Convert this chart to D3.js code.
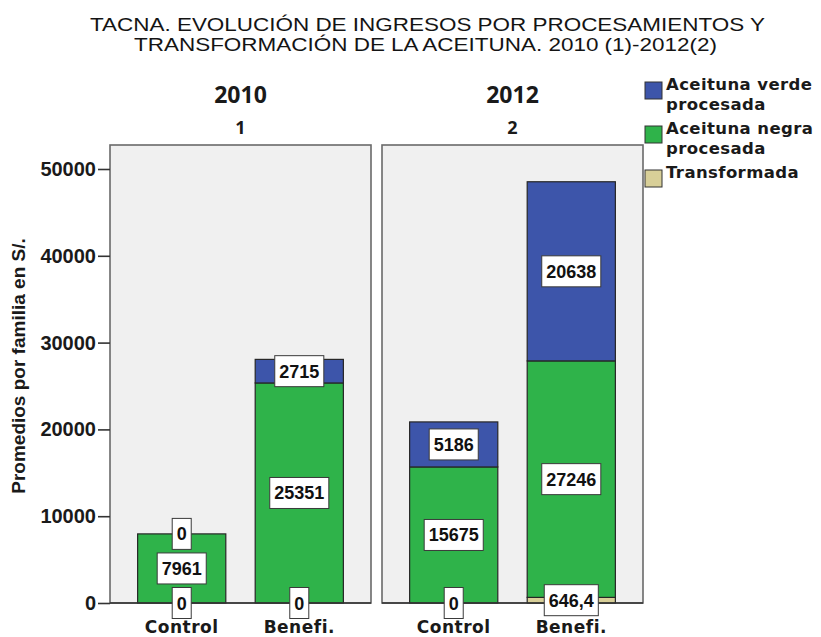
<!DOCTYPE html>
<html>
<head>
<meta charset="utf-8">
<script src="https://cdn.jsdelivr.net/npm/d3@7"></script>
<style>
  html, body { margin: 0; padding: 0; background: #ffffff; }
  svg { display: block; }
</style>
</head>
<body>
<svg id="chart" width="821" height="637"></svg>
<script>
// ---------- data ----------
const titleLines = [
  "TACNA. EVOLUCIÓN DE INGRESOS POR PROCESAMIENTOS Y",
  "TRANSFORMACIÓN DE LA ACEITUNA. 2010 (1)-2012(2)"
];
const years = ["2010", "2012"];
const yearCodes = ["1", "2"];
const groups = ["Control", "Benefi."];
const seriesNames = ["Transformada", "Aceituna negra procesada", "Aceituna verde procesada"]; // stack order bottom -> top
const transformada = [[0, 0], [0, 646.4]];       // [year][group]
const negra = [[7961, 25351], [15675, 27246]];
const verde = [[0, 2715], [5186, 20638]];
const yTicks = [0, 10000, 20000, 30000, 40000, 50000];
const yTitle = "Promedios por familia en S/.";
const legendItems = [
  { key: "Aceituna verde procesada", lines: ["Aceituna verde", "procesada"] },
  { key: "Aceituna negra procesada", lines: ["Aceituna negra", "procesada"] },
  { key: "Transformada", lines: ["Transformada"] }
];

// ---------- styles / layout ----------
const colors = {
  "Aceituna verde procesada": "#3d55aa",
  "Aceituna negra procesada": "#2fb34a",
  "Transformada": "#d8cf98"
};
const seriesData = {
  "Transformada": transformada,
  "Aceituna negra procesada": negra,
  "Aceituna verde procesada": verde
};

const svg = d3.select("#chart");
const panelTop = 145, baseY = 603, panelW = 261;
const panelX = [110, 382];
const yMax = 52765;

const y = d3.scaleLinear().domain([0, yMax]).range([baseY, panelTop]);
const x = d3.scaleBand().domain(groups).range([0, panelW]).paddingInner(0.25).paddingOuter(0.235);

// title
svg.selectAll("text.title").data(titleLines).join("text")
  .attr("class", "title")
  .attr("x", (d, i) => i === 0 ? 90 : 134)
  .attr("y", (d, i) => i === 0 ? 30.5 : 50.5)
  .attr("textLength", (d, i) => i === 0 ? 675 : 583)
  .attr("lengthAdjust", "spacingAndGlyphs")
  .style("font-family", "'Liberation Sans', Arial, sans-serif")
  .style("font-size", "18px")
  .style("fill", "#141414")
  .text(d => d);

// y axis title
svg.append("text")
  .attr("transform", "translate(25,366) rotate(-90)")
  .attr("text-anchor", "middle")
  .style("font-family", "'Liberation Sans', Arial, sans-serif")
  .style("font-weight", "bold")
  .style("font-size", "19px")
  .style("fill", "#1a1a1a")
  .text(yTitle);

const fmt = v => Number.isInteger(v) ? String(v) : String(v).replace(".", ",");

years.forEach((yr, yi) => {
  const g = svg.append("g").attr("transform", `translate(${panelX[yi]},0)`);

  // facet headers
  g.append("text")
    .attr("x", panelW / 2).attr("y", 103)
    .attr("text-anchor", "middle")
    .style("font-family", "'Open Sans', sans-serif")
    .style("font-weight", "bold")
    .style("font-size", "23px")
    .style("fill", "#1a1a1a")
    .text(yr);
  g.append("text")
    .attr("x", panelW / 2).attr("y", 134)
    .attr("text-anchor", "middle")
    .style("font-family", "'Open Sans', sans-serif")
    .style("font-weight", "bold")
    .style("font-size", "18px")
    .style("fill", "#1a1a1a")
    .text(yearCodes[yi]);

  // panel background
  g.append("rect")
    .attr("x", 0).attr("y", panelTop)
    .attr("width", panelW).attr("height", baseY - panelTop)
    .attr("fill", "#f0f0f0")
    .attr("stroke", "#6a6a6a")
    .attr("stroke-width", 1.6);

  // stacked segments
  const segs = [];
  groups.forEach((grp, gi) => {
    let acc = 0;
    seriesNames.forEach(s => {
      const v = seriesData[s][yi][gi];
      segs.push({ grp, s, v, y0: acc, y1: acc + v });
      acc += v;
    });
  });

  g.selectAll("rect.bar").data(segs.filter(d => d.v > 0)).join("rect")
    .attr("class", "bar")
    .attr("x", d => x(d.grp))
    .attr("width", x.bandwidth())
    .attr("y", d => y(d.y1))
    .attr("height", d => y(d.y0) - y(d.y1))
    .attr("fill", d => colors[d.s])
    .attr("stroke", "#262626")
    .attr("stroke-width", 1.2);

  // baseline
  g.append("line")
    .attr("x1", 0).attr("x2", panelW)
    .attr("y1", baseY).attr("y2", baseY)
    .attr("stroke", "#333").attr("stroke-width", 1.6);

  // category labels
  g.selectAll("text.cat").data(groups).join("text")
    .attr("class", "cat")
    .attr("x", d => x(d) + x.bandwidth() / 2)
    .attr("y", 633)
    .attr("text-anchor", "middle")
    .style("font-family", "'DejaVu Sans', sans-serif")
    .style("font-weight", "bold")
    .style("font-size", "17px")
    .style("letter-spacing", "0.5px")
    .style("fill", "#1a1a1a")
    .text(d => d);

  // value labels
  const lab = g.selectAll("g.lab").data(segs).join("g")
    .attr("class", "lab")
    .attr("transform", d => `translate(${x(d.grp) + x.bandwidth() / 2},${y((d.y0 + d.y1) / 2)})`);
  lab.append("rect");
  lab.append("text")
    .attr("text-anchor", "middle")
    .attr("y", 6.5)
    .style("font-family", "'Liberation Sans', Arial, sans-serif")
    .style("font-weight", "bold")
    .style("font-size", "18px")
    .style("fill", "#111")
    .text(d => fmt(d.v));
  lab.each(function () {
    const t = d3.select(this).select("text").node();
    const w = t.getComputedTextLength() + 9;
    d3.select(this).select("rect")
      .attr("x", -w / 2).attr("y", -15.5)
      .attr("width", w).attr("height", 31)
      .attr("fill", "#ffffff")
      .attr("stroke", "#3a3a3a")
      .attr("stroke-width", 1);
  });

  // y axis on first panel
  if (yi === 0) {
    const ax = g.append("g")
      .call(d3.axisLeft(y).tickValues(yTicks).tickSize(12).tickPadding(2).tickFormat(d3.format("d")));
    ax.select(".domain").remove();
    ax.selectAll(".tick line").attr("stroke", "#333").attr("stroke-width", 1.6);
    ax.selectAll(".tick text")
      .style("font-family", "'Liberation Sans', Arial, sans-serif")
      .style("font-weight", "bold")
      .style("font-size", "20px")
      .style("fill", "#1a1a1a");
  }
});

// legend
const lg = svg.append("g").attr("transform", "translate(645,0)");
const legTexts = [];
legendItems.forEach((it, i) => {
  const by = 90 + i * 44;
  lg.append("rect")
    .attr("x", 0).attr("y", by - 8)
    .attr("width", 17).attr("height", 17)
    .attr("fill", colors[it.key])
    .attr("stroke", "#333").attr("stroke-width", 1);
  it.lines.forEach((ln, li) => {
    const t = lg.append("text")
      .attr("x", 21).attr("y", by + li * 19.5)
      .style("font-family", "'DejaVu Sans', sans-serif")
      .style("font-weight", "bold")
      .style("font-size", "16.5px")
      .style("fill", "#1a1a1a")
      .text(ln);
    legTexts.push(t);
  });
});
// widen legend lettering to the reference's spacing ("Aceituna verde" ≈ 146px wide)
const natural = legTexts[0].node().getComputedTextLength();
const ls = Math.max(0, (146 - natural) / (legendItems[0].lines[0].length - 1));
legTexts.forEach(t => t.style("letter-spacing", ls + "px"));
</script>
</body>
</html>
